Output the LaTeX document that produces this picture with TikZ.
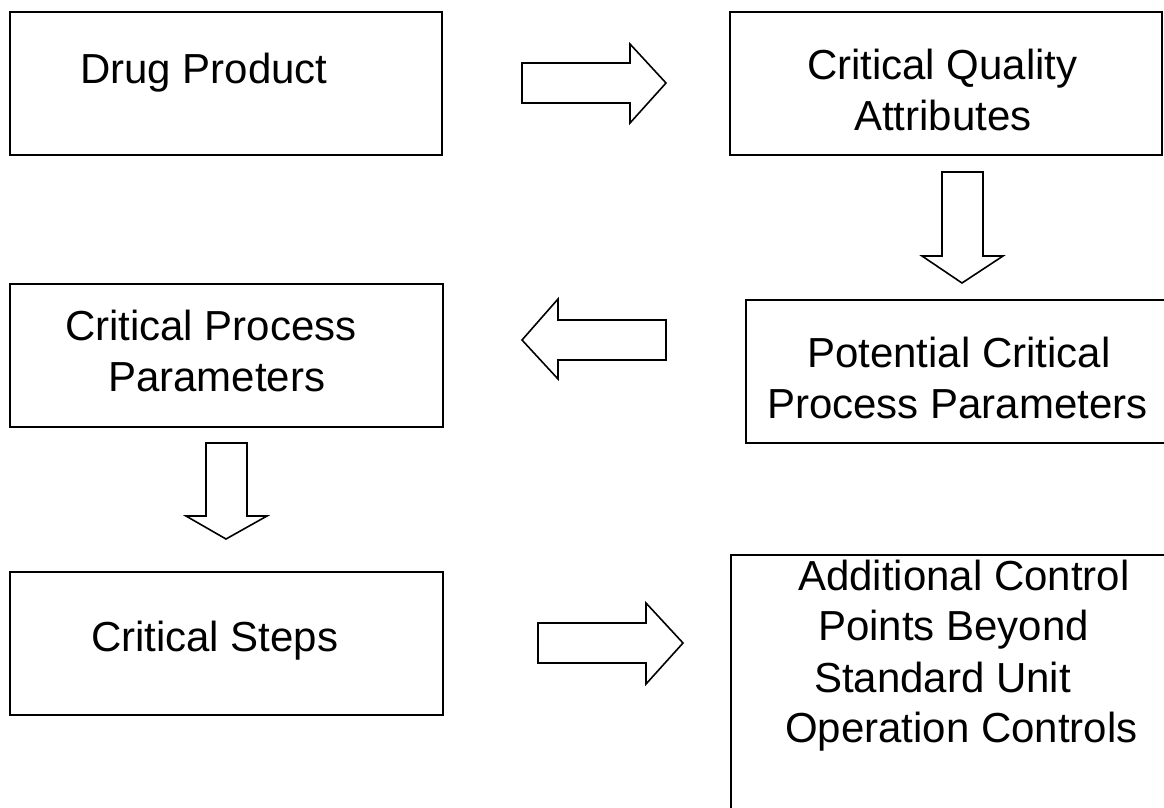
\documentclass[tikz,border=0pt]{standalone}
\usepackage{fontspec}
\setmainfont{Liberation Sans}
\begin{document}
\begin{tikzpicture}[x=1pt,y=-1pt,
  box/.style={draw=black,line width=2pt,inner sep=0pt,outer sep=0pt,anchor=north west,fill=none},
  lbl/.style={anchor=base west,inner sep=0pt,outer sep=0pt,font=\fontsize{42}{51}\selectfont},
  barrow/.style={draw=black,line width=1.6pt,line join=miter,fill=white}]
\useasboundingbox (0,0) rectangle (1164,807);
\clip (0,0) rectangle (1164,807);
% boxes
\node[box,minimum width=432pt,minimum height=143pt] (b1) at (10,12) {};
\node[box,minimum width=432pt,minimum height=143pt] (b2) at (730,12) {};
\node[box,minimum width=433pt,minimum height=143pt] (b3) at (10,284) {};
\node[box,minimum width=430pt,minimum height=143pt] (b4) at (746,300) {};
\node[box,minimum width=433pt,minimum height=143pt] (b5) at (10,572) {};
\node[box,minimum width=440pt,minimum height=270pt] (b6) at (731,555) {};
% texts
\node[lbl] (t1) at (80,83) {Drug Product};
\node[lbl] (t2a) at (807,79) {Critical Quality};
\node[lbl] (t2b) at (854,130) {Attributes};
\node[lbl] (t3a) at (65,340) {Critical Process};
\node[lbl] (t3b) at (108,391) {Parameters};
\node[lbl] (t4a) at (807,367) {Potential Critical};
\node[lbl] (t4b) at (767,418) {Process Parameters};
\node[lbl] (t5) at (91,651) {Critical Steps};
\node[lbl] (t6a) at (798,590) {Additional Control};
\node[lbl] (t6b) at (818,640) {Points Beyond};
\node[lbl] (t6c) at (814,692) {Standard Unit};
\node[lbl] (t6d) at (785,742) {Operation Controls};
% block arrows
\draw[barrow] (522,63) -- (630,63) -- (630,44) -- (666,83) -- (630,123) -- (630,103) -- (522,103) -- cycle;
\draw[barrow] (942,172) -- (983,172) -- (983,256) -- (1003,256) -- (962,283) -- (922,256) -- (942,256) -- cycle;
\draw[barrow] (666,320) -- (558,320) -- (558,299) -- (522,340) -- (558,379) -- (558,360) -- (666,360) -- cycle;
\draw[barrow] (206,443) -- (247,443) -- (247,516) -- (267,516) -- (226,539) -- (186,516) -- (206,516) -- cycle;
\draw[barrow] (538,623) -- (646,623) -- (646,603) -- (683,643) -- (646,684) -- (646,663) -- (538,663) -- cycle;
\end{tikzpicture}
\end{document}
